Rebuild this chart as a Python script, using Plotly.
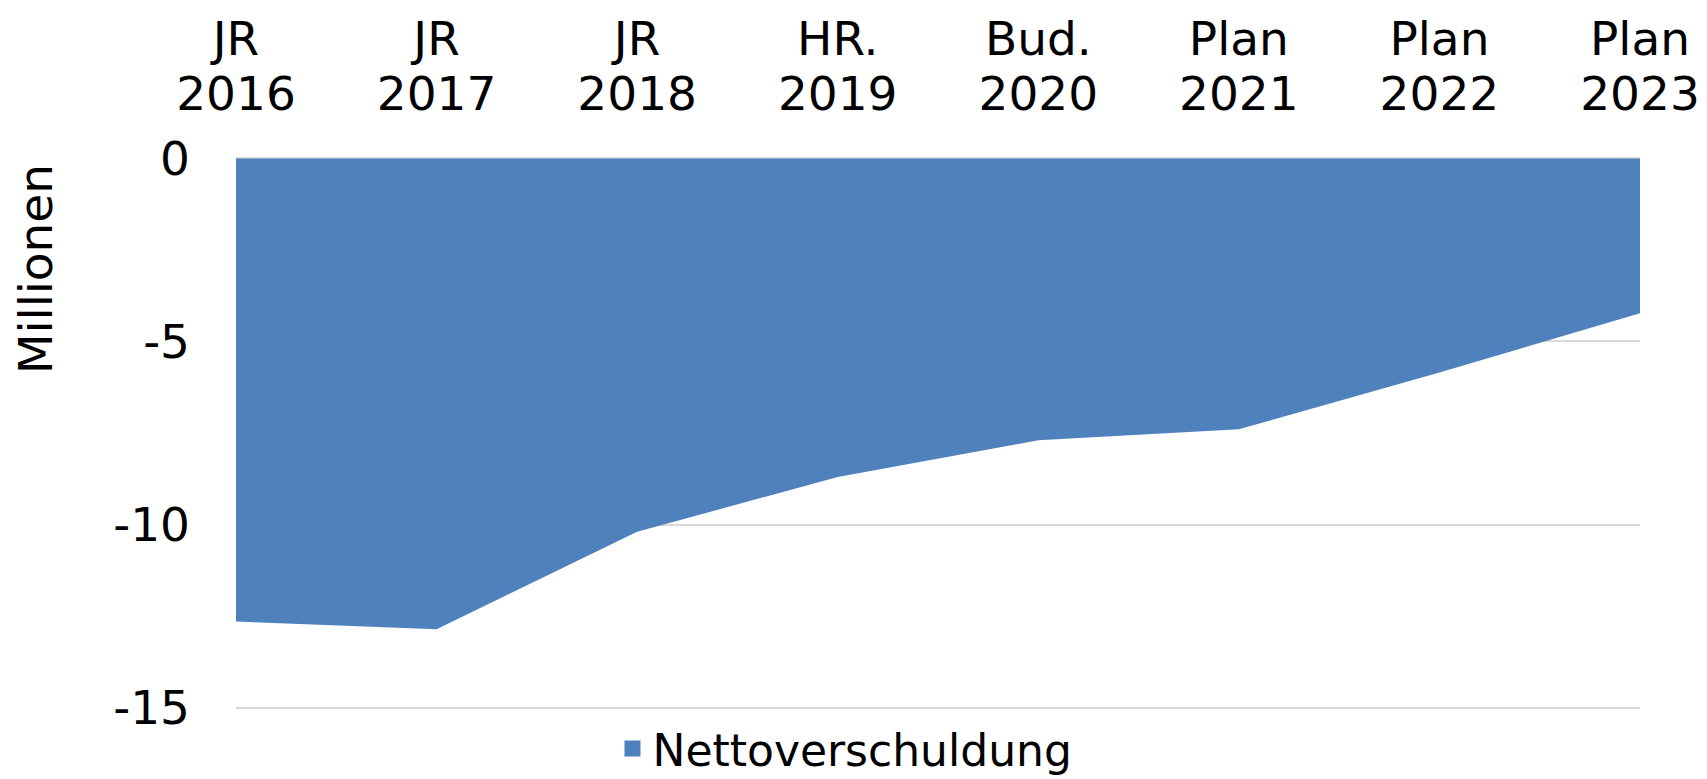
import plotly.graph_objects as go

prefixes = ["JR", "JR", "JR", "HR.", "Bud.", "Plan", "Plan", "Plan"]
years = ["2016", "2017", "2018", "2019", "2020", "2021", "2022", "2023"]
categories = [p + " " + y for p, y in zip(prefixes, years)]
values = [-12.65, -12.86, -10.2, -8.7, -7.7, -7.4, -5.85, -4.23]
series_name = "Nettoverschuldung"
y_tickvals = [0, -5, -10, -15]
y_ticktext = ["0", "-5", "-10", "-15"]
y_title = "Millionen"

FONT = "DejaVu Sans"
BLUE = "#4F81BD"
W, H = 1707, 779
ML, MR, MT, MB = 236, 67, 157, 70
PW = W - ML - MR
PH = H - MT - MB

fig = go.Figure()
fig.add_trace(go.Scatter(
    x=categories, y=values, name=series_name,
    mode="lines", fill="tozeroy", fillcolor=BLUE,
    line=dict(width=0, color=BLUE),
    showlegend=False, hoverinfo="x+y",
))
# invisible helper so the second (upper-line) category axis knows the categories
fig.add_trace(go.Scatter(
    x=categories, y=[None] * len(categories), xaxis="x2", mode="lines",
    showlegend=False, hoverinfo="skip",
))
# legend entry with a square swatch
fig.add_trace(go.Scatter(
    x=[None], y=[None], name=series_name, mode="markers",
    marker=dict(symbol="square", size=25, color=BLUE),
    showlegend=True,
))

tick_font = dict(family=FONT, size=47, color="black")
fig.update_layout(
    width=W, height=H,
    margin=dict(l=ML, r=MR, t=MT, b=MB, autoexpand=False),
    paper_bgcolor="white", plot_bgcolor="white",
    font=dict(family=FONT, size=47, color="black"),
    showlegend=True,
    legend=dict(orientation="h", x=(845 - ML) / PW, xanchor="center",
                y=(H - MB - 749) / PH, yanchor="middle",
                font=dict(family=FONT, size=44, color="black"),
                itemsizing="trace", bgcolor="rgba(0,0,0,0)"),
    xaxis=dict(
        type="category", side="top", range=[0, len(categories) - 1],
        tickvals=categories, ticktext=years,
        showgrid=False, zeroline=False, showline=False, ticks="",
        ticklabelstandoff=37, automargin=False, tickfont=tick_font,
    ),
    xaxis2=dict(
        type="category", side="top", overlaying="x", matches="x",
        range=[0, len(categories) - 1],
        tickvals=categories, ticktext=prefixes,
        showgrid=False, zeroline=False, showline=False, ticks="",
        ticklabelstandoff=92, automargin=False, tickfont=tick_font,
    ),
    yaxis=dict(
        range=[-15.04, 0.04], tickvals=y_tickvals, ticktext=y_ticktext,
        showgrid=True, gridcolor="#D9D9D9", gridwidth=2,
        zeroline=False, showline=False, ticks="",
        ticklabelstandoff=45, automargin=False, tickfont=tick_font,
    ),
    annotations=[dict(
        text=y_title, xref="paper", yref="paper",
        x=(35 - ML) / PW, y=1 - (269 - MT) / PH,
        xanchor="center", yanchor="middle", textangle=-90, showarrow=False,
        font=dict(family=FONT, size=47, color="black"),
    )],
)

fig.write_html(
    "out.html",
    config={"displayModeBar": False},
    post_script="document.body.style.margin='0';document.body.style.overflow='hidden';",
)
